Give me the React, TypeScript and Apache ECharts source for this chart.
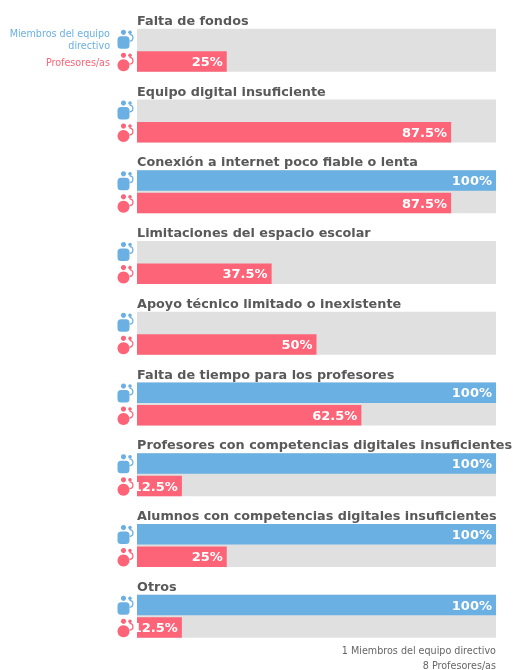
import React, { useEffect, useRef } from "react";
import * as echarts from "echarts";

const categories = [
  "Falta de fondos",
  "Equipo digital insuficiente",
  "Conexión a internet poco fiable o lenta",
  "Limitaciones del espacio escolar",
  "Apoyo técnico limitado o inexistente",
  "Falta de tiempo para los profesores",
  "Profesores con competencias digitales insuficientes",
  "Alumnos con competencias digitales insuficientes",
  "Otros",
];
const directivos = [0, 0, 100, 0, 0, 100, 100, 100, 100];
const profesores = [25, 87.5, 87.5, 37.5, 50, 62.5, 12.5, 25, 12.5];
const fullScale = [100, 100, 100, 100, 100, 100, 100, 100, 100];
const legendNames = ["Miembros del equipo\ndirectivo", "Profesores/as"];
const footnotes = ["1 Miembros del equipo directivo", "8 Profesores/as"];

const BLUE = "#6ab0e3";
const RED = "#fe6478";
const GREY = "#e0e0e0";
const FONT = "'DejaVu Sans', Verdana, sans-serif";

function iconChildren(cx: number, cy: number, color: string, round: boolean) {
  const body = round
    ? { type: "circle", shape: { cx: cx - 1.5, cy: cy + 3, r: 6 }, style: { fill: color } }
    : { type: "rect", shape: { x: cx - 7.5, y: cy - 3, width: 12, height: 12.5, r: 3.5 }, style: { fill: color } };
  return [
    body,
    { type: "circle", shape: { cx: cx - 1.5, cy: cy - 7, r: 2.6 }, style: { fill: color } },
    { type: "circle", shape: { cx: cx + 5, cy: cy - 7, r: 1.8 }, style: { fill: color } },
    {
      type: "arc",
      shape: { cx: cx + 4.5, cy: cy - 1.5, r: 3.4, startAngle: -Math.PI / 2, endAngle: Math.PI / 2 },
      style: { stroke: color, lineWidth: 1.3, fill: "none" },
    },
  ];
}

function percentLabel() {
  return {
    show: true,
    position: "insideRight" as const,
    distance: 4,
    color: "#fff",
    fontFamily: FONT,
    fontWeight: "bold" as const,
    fontSize: 13,
    formatter: (p: any) => (p.value > 0 ? `${p.value}%` : ""),
  };
}

export default function App() {
  const ref = useRef<HTMLDivElement>(null);
  useEffect(() => {
    const chart = echarts.init(ref.current!, undefined, { renderer: "svg" });
    chart.setOption({
      animation: false,
      grid: { left: 137, top: 14.9, width: 359, height: 636.75, containLabel: false },
      xAxis: { type: "value", min: 0, max: 100, show: false },
      yAxis: [
        { type: "category", inverse: true, data: categories, show: false },
        { type: "category", inverse: true, data: categories, show: false },
      ],
      series: [
        {
          type: "bar",
          name: "Fondo",
          yAxisIndex: 1,
          data: fullScale,
          barWidth: 43,
          itemStyle: { color: GREY },
          z: 1,
          silent: true,
        },
        {
          type: "bar",
          name: "Miembros del equipo directivo",
          data: directivos,
          barWidth: 20.5,
          barGap: "10%",
          itemStyle: { color: BLUE },
          label: percentLabel(),
          z: 2,
          silent: true,
        },
        {
          type: "bar",
          name: "Profesores/as",
          data: profesores,
          barWidth: 20.5,
          barGap: "10%",
          itemStyle: { color: RED },
          label: percentLabel(),
          z: 2,
          silent: true,
        },
        {
          type: "custom",
          silent: true,
          clip: false,
          z: 5,
          data: categories.map((c, i) => [0, i, c]),
          encode: { x: 0, y: 1 },
          renderItem: (_: any, api: any) => {
            const [x, y] = api.coord([0, api.value(1)]);
            return {
              type: "group",
              children: [
                ...iconChildren(x - 12, y - 11, BLUE, false),
                ...iconChildren(x - 12, y + 12, RED, true),
                {
                  type: "text",
                  style: {
                    x,
                    y: y - 30,
                    text: categories[api.value(1)],
                    fill: "#595959",
                    font: `bold 12.8px ${FONT}`,
                    textAlign: "left",
                    textVerticalAlign: "middle",
                  },
                },
              ],
            };
          },
        },
      ],
      graphic: [
        {
          type: "text",
          x: 110,
          y: 39,
          style: {
            text: legendNames[0],
            fill: BLUE,
            font: `9.6px ${FONT}`,
            lineHeight: 12,
            align: "right",
            verticalAlign: "middle",
          },
        },
        {
          type: "text",
          x: 110,
          y: 62,
          style: { text: legendNames[1], fill: RED, font: `9.6px ${FONT}`, align: "right", verticalAlign: "middle" },
        },
        {
          type: "text",
          x: 496,
          y: 650,
          style: { text: footnotes[0], fill: "#666", font: `9.6px ${FONT}`, align: "right", verticalAlign: "middle" },
        },
        {
          type: "text",
          x: 496,
          y: 665,
          style: { text: footnotes[1], fill: "#666", font: `9.6px ${FONT}`, align: "right", verticalAlign: "middle" },
        },
      ],
    });
    return () => chart.dispose();
  }, []);
  return <div ref={ref} style={{ position: "fixed", left: 0, top: 0, width: 513, height: 670 }} />;
}
